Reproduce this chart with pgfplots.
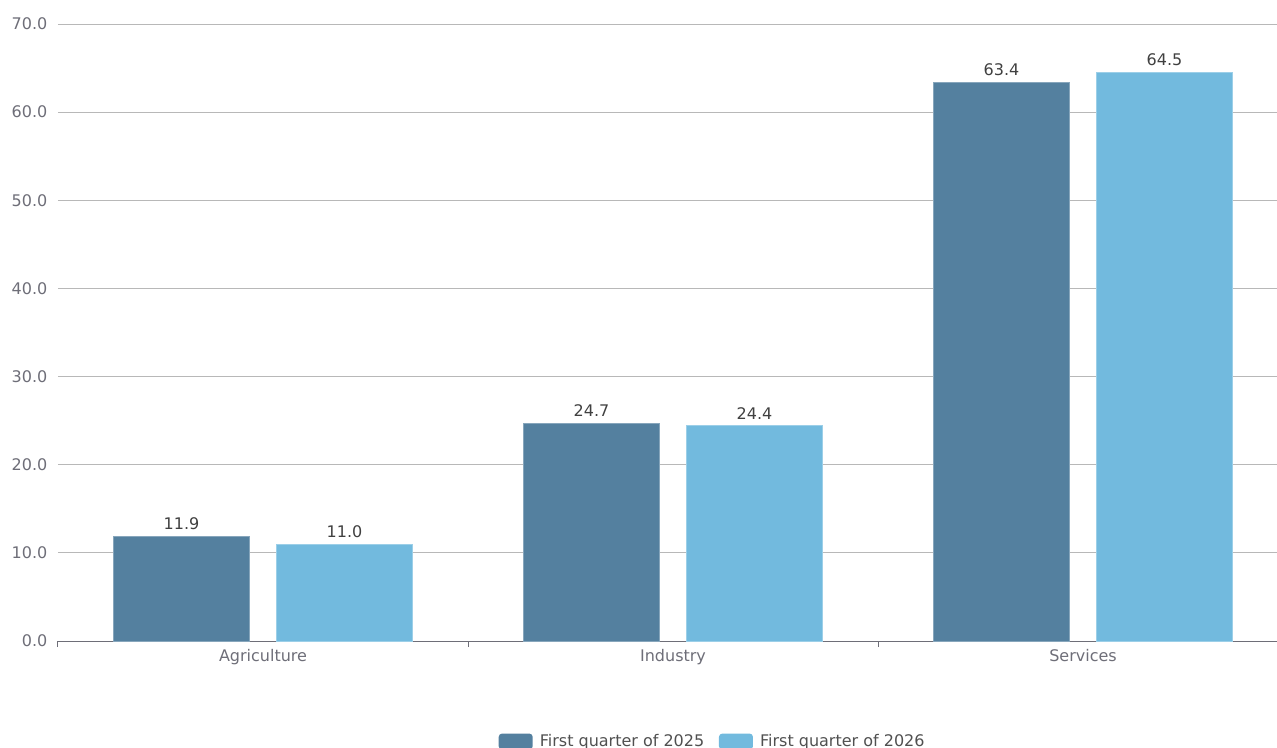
\documentclass[border=0pt]{standalone}
\usepackage{pgfplots}
\pgfplotsset{compat=1.18}
\usepackage{fontspec}
\setmainfont{DejaVu Sans}
\definecolor{c1}{HTML}{54809F}
\definecolor{c2}{HTML}{72BADE}
\definecolor{tickc}{HTML}{6E6E78}
\definecolor{gridc}{HTML}{B8B8B8}
\definecolor{valc}{HTML}{404040}
\definecolor{legc}{HTML}{505050}
\begin{document}
\begin{tikzpicture}
\clip (0,0) rectangle (957.75pt,560.25pt);
\path[use as bounding box] (0,0) rectangle (957.75pt,560.25pt);
\begin{axis}[
  at={(43.5pt,79.5pt)}, anchor=south west,
  scale only axis, width=914.25pt, height=462.75pt,
  xmin=-0.5, xmax=2.4732, ymin=0, ymax=70,
  axis x line*=bottom, axis y line*=left,
  y axis line style={draw=none},
  x axis line style={draw=tickc, line width=0.75pt},
  ytick={0,10,...,70},
  /pgf/number format/fixed, /pgf/number format/fixed zerofill, /pgf/number format/precision=1,
  /pgf/number format/assume math mode=true,
  y tick label style={font=\fontsize{12}{14}\selectfont, text=tickc},
  major tick length=4.5pt, tick align=outside,
  major y tick style={draw=none},
  major x tick style={draw=tickc, line width=0.75pt},
  ymajorgrids, grid style={gridc, line width=0.75pt},
  xtick={-0.5,0.5,1.5}, xticklabels={Agriculture,Industry,Services},
  x tick label style={font=\fontsize{12}{14}\selectfont, text=tickc, xshift=153.75pt, yshift=1.5pt},
  ybar, bar width=102pt,
  nodes near coords,
  nodes near coords style={font=\fontsize{12}{14}\selectfont, text=valc, anchor=south, inner sep=0pt, yshift=4.5pt},
  legend columns=2,
  legend style={at={(0.5373,-0.163)}, anchor=center, draw=none, fill=none,
    font=\fontsize{12}{14}\selectfont, text=legc,
    /tikz/every even column/.append style={column sep=9pt}},
  legend image code/.code={\fill[#1, draw=none, rounded corners=2.5pt] (0pt,-6pt) rectangle (25.5pt,6pt); \path (28.5pt,0pt);},
]
\addplot[fill=c1, draw=c1!70!white, line width=0.75pt, bar shift=-61.1pt] coordinates {(0,11.9) (1,24.7) (2,63.4)};
\addplot[fill=c2, draw=c2!70!white, line width=0.75pt, bar shift=61.1pt] coordinates {(0,11.0) (1,24.4) (2,64.5)};
\legend{First quarter of 2025, First quarter of 2026}
\end{axis}
\end{tikzpicture}
\end{document}
